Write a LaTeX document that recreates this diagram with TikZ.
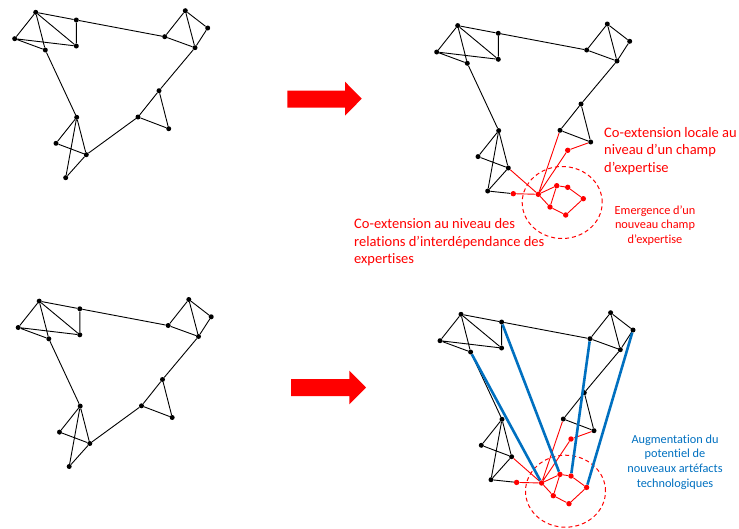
\documentclass[tikz,border=0pt]{standalone}
\usepackage{fontspec}
\setmainfont{Carlito}[Ligatures=NoCommon]
\usetikzlibrary{shapes.geometric}
\definecolor{myblue}{RGB}{0,112,192}
\definecolor{myred}{RGB}{255,0,0}
\tikzset{
  dot/.style={circle,fill=black,inner sep=0pt,minimum size=5pt},
  rdot/.style={circle,fill=myred,inner sep=0pt,minimum size=5.4pt},
  edge/.style={black,line width=0.9pt},
  redge/.style={myred,line width=0.9pt},
  bedge/.style={myblue,line width=2.6pt},
  zone/.style={draw=myred,dashed,dash pattern=on 4pt off 3pt,line width=1pt,ellipse,minimum width=80pt,minimum height=72pt,inner sep=0pt},
  bigarrow/.style={fill=myred},
  redlab/.style={myred,font=\fontsize{14.5}{17.5}\selectfont,align=left,inner sep=0pt},
  smalllab/.style={font=\fontsize{12.3}{14.6}\selectfont,align=center,inner sep=0pt},
}
\newcommand{\mynet}[3]{%
\begin{scope}[shift={(#2,#3)}]
 \node[dot] (#1A) at (35.7,12.3) {};
 \node[dot] (#1B) at (76.3,20) {};
 \node[dot] (#1C) at (14.7,38.7) {};
 \node[dot] (#1D) at (45.3,50) {};
 \node[dot] (#1E) at (76.3,46) {};
 \node[dot] (#1F) at (185.3,10.7) {};
 \node[dot] (#1G) at (207.7,28) {};
 \node[dot] (#1H) at (164.7,36.7) {};
 \node[dot] (#1I) at (195,47.7) {};
 \node[dot] (#1J) at (159,90.7) {};
 \node[dot] (#1K) at (138,117) {};
 \node[dot] (#1L) at (168.7,128.7) {};
 \node[dot] (#1M) at (76.7,117.3) {};
 \node[dot] (#1N) at (56,143.3) {};
 \node[dot] (#1O) at (86.3,154.7) {};
 \node[dot] (#1P) at (65.7,177.7) {};
\end{scope}
\draw[edge] (#1A)--(#1B) (#1B)--(#1H) (#1A)--(#1C) (#1A)--(#1E) (#1A)--(#1D)
 (#1D)--(#1M) (#1B)--(#1E) (#1C)--(#1E) (#1C)--(#1D)
 (#1F)--(#1H) (#1F)--(#1G) (#1F)--(#1I) (#1G)--(#1I) (#1H)--(#1I)
 (#1I)--(#1J) (#1J)--(#1K) (#1J)--(#1L) (#1K)--(#1L)
 (#1M)--(#1N) (#1M)--(#1P) (#1M)--(#1O) (#1N)--(#1O) (#1O)--(#1P);
}
\newcommand{\mynew}[3]{%
\begin{scope}[shift={(#2,#3)}]
 \node[zone] (#1Z) at (140.2,189.2) {};
 \node[rdot] (#1R) at (91.3,180.4) {};
 \node[rdot] (#1X) at (116.3,181) {};
 \node[rdot] (#1Qa) at (134.7,172.4) {};
 \node[rdot] (#1Qb) at (145.7,174) {};
 \node[rdot] (#1Qc) at (161.3,185.4) {};
 \node[rdot] (#1Qd) at (143.7,201.7) {};
 \node[rdot] (#1Qe) at (128,193.7) {};
 \node[rdot] (#1S) at (145.7,137) {};
\end{scope}
\draw[edge] (#1P)--(#1R);
\draw[redge] (#1R)--(#1X) (#1O)--(#1X) (#1K)--(#1X) (#1L)--(#1S) (#1S)--(#1X)
 (#1X)--(#1Qa) (#1X)--(#1Qe) (#1Qa)--(#1Qb) (#1Qb)--(#1Qc) (#1Qc)--(#1Qd)
 (#1Qd)--(#1Qe) (#1Qe)--(#1Qa);
}
\begin{document}
\begin{tikzpicture}[x=1pt,y=-1pt]
\useasboundingbox (0,0) rectangle (739,528);
% top-left
\mynet{a}{0}{0}
\draw[edge] (aK)--(aO);
% bottom-left
\mynet{c}{3.5}{288.8}
\draw[edge] (cK)--(cO);
% top-right
\mynet{b}{422}{13.3}
\mynew{b}{422}{13.3}
% bottom-right
\mynet{d}{425.3}{302}
\mynew{d}{425.3}{302}
\draw[bedge] (dD)--(dX) (dB)--(dQa) (dH)--(dQb) (dG)--(dQc);
% arrows
\fill[bigarrow] (287.3,90.7) -- (345,90.7) -- (345,81.7) -- (361.7,98.7) -- (345,115.7) -- (345,107.7) -- (287.3,107.7) -- cycle;
\fill[bigarrow] (291,379) -- (349.3,379) -- (349.3,370.7) -- (366,387.5) -- (349.3,404.3) -- (349.3,396) -- (291,396) -- cycle;
% labels (base anchor = baseline of the last line)
\node[redlab,anchor=base west] (lab1) at (604,172.3) {Co-extension locale au\\niveau d’un champ\\d’expertise};
\node[redlab,anchor=base west] (lab2) at (354,263.7) {Co-extension au niveau des\\relations d’interdépendance des\\expertises};
\node[smalllab,myred,anchor=base] (lab3) at (655,243.2) {Emergence d’un\\nouveau champ\\d’expertise};
\node[smalllab,myblue,anchor=base] (lab4) at (675,487.1) {Augmentation du\\potentiel de\\nouveaux artéfacts\\technologiques};
\end{tikzpicture}
\end{document}
